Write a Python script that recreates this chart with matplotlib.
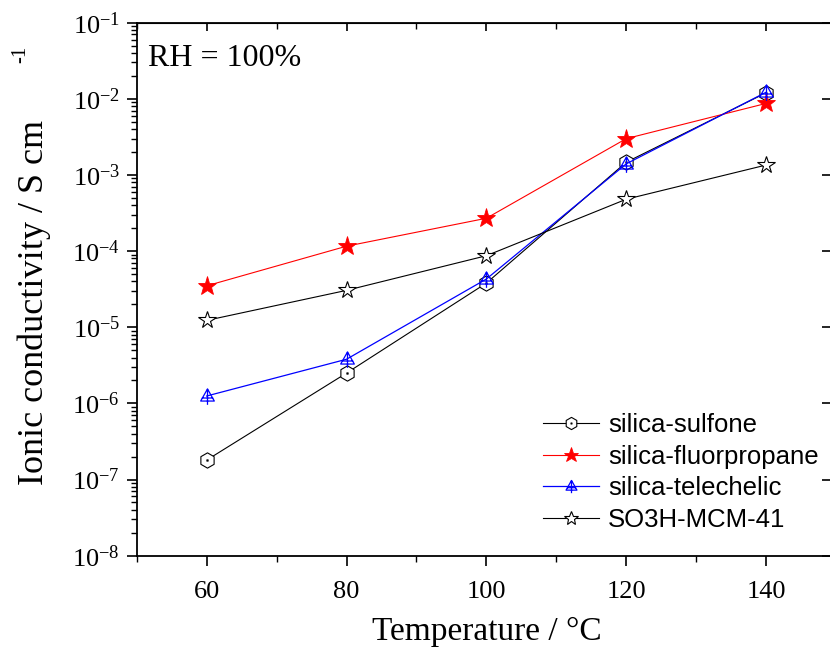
import numpy as np
import matplotlib
matplotlib.use('Agg')
import matplotlib.pyplot as plt
from matplotlib.path import Path
from matplotlib.ticker import LogLocator, NullLocator, FixedLocator, MultipleLocator

plt.rcParams['font.family'] = 'Liberation Serif'
plt.rcParams['mathtext.fontset'] = 'custom'
plt.rcParams['mathtext.rm'] = 'Liberation Serif'
plt.rcParams['mathtext.it'] = 'Liberation Serif:italic'

# data
temp = [60, 80, 100, 120, 140]
sulfone = [1.8e-7, 2.5e-6, 3.8e-5, 1.47e-3, 1.2e-2]
fluorpropane = [3.5e-5, 1.16e-4, 2.7e-4, 3.0e-3, 8.7e-3]
telechelic = [1.25e-6, 3.8e-6, 4.3e-5, 1.40e-3, 1.22e-2]
mcm41 = [1.23e-5, 3.05e-5, 8.7e-5, 4.8e-4, 1.35e-3]
labels = ['silica-sulfone', 'silica-fluorpropane', 'silica-telechelic', 'SO3H-MCM-41']

# hexagon with a dot in the middle
a = np.deg2rad(np.arange(90, 450, 60))
hx = list(zip(np.cos(a), np.sin(a)))
hex_verts = hx + [hx[0]] + [(-0.08, -0.08), (0.08, -0.08), (0.08, 0.08), (-0.08, 0.08), (-0.08, -0.08)]
hex_codes = [Path.MOVETO] + [Path.LINETO] * 5 + [Path.CLOSEPOLY] + [Path.MOVETO] + [Path.LINETO] * 3 + [Path.CLOSEPOLY]
hex_mark = Path(hex_verts, hex_codes)

# triangle with a cross
tri_verts = [(0, 1), (-0.9, -0.6), (0.9, -0.6), (0, 1),
             (0, 1), (0, -1.1),
             (-0.75, -0.2), (0.75, -0.2)]
tri_codes = [Path.MOVETO, Path.LINETO, Path.LINETO, Path.CLOSEPOLY,
             Path.MOVETO, Path.LINETO,
             Path.MOVETO, Path.LINETO]
tri_mark = Path(tri_verts, tri_codes)

fig = plt.figure(figsize=(8.3, 6.57), dpi=100)
ax = fig.add_axes([0.1647, 0.1542, 1.0073 - 0.1647, 0.9655 - 0.1542])

ax.plot(temp, sulfone, color='black', lw=0.8, marker=hex_mark, ms=11,
        mfc='white', mec='black', mew=0.8, label=labels[0])
ax.plot(temp, fluorpropane, color='red', lw=0.8, marker='*', ms=14,
        mfc='red', mec='red', mew=0.6, label=labels[1])
ax.plot(temp, telechelic, color='blue', lw=0.9, marker=tri_mark, ms=12,
        mfc='none', mec='blue', mew=0.9, label=labels[2])
ax.plot(temp, mcm41, color='black', lw=0.8, marker='*', ms=13,
        mfc='white', mec='black', mew=0.8, label=labels[3])

ax.set_yscale('log')
ax.set_ylim(1e-8, 1e-1)
ax.set_xlim(50, 150)
ax.xaxis.set_major_locator(FixedLocator([60, 80, 100, 120, 140]))
ax.xaxis.set_minor_locator(MultipleLocator(10))
ax.yaxis.set_minor_locator(LogLocator(base=10, subs=np.arange(2, 10), numticks=20))
ax.set_yticks([10.0 ** k for k in range(-8, 0)])
ax.set_yticklabels(['$\\mathregular{10^{%d}}$' % k for k in range(-8, 0)])

for s in ax.spines.values():
    s.set_linewidth(1.3)
ax.tick_params(which='major', direction='out', length=7, width=1.2, labelsize=19,
               top=False, right=False, pad=5)
ax.tick_params(axis='x', which='major', pad=11)
ax.tick_params(which='minor', direction='out', length=4, width=1.0, top=False, right=False)

top = ax.secondary_xaxis('top')
top.xaxis.set_major_locator(FixedLocator([60, 80, 100, 120, 140]))
top.xaxis.set_minor_locator(MultipleLocator(10))
top.tick_params(which='major', direction='in', length=6, width=1.2, labeltop=False)
top.tick_params(which='minor', direction='in', length=4, width=1.0)

right = ax.secondary_yaxis('right')
right.yaxis.set_major_locator(FixedLocator([10.0 ** k for k in range(-8, 0)]))
right.yaxis.set_minor_locator(NullLocator())
right.tick_params(which='major', direction='in', length=10, width=1.2, labelright=False)

ax.set_xlabel('Temperature / °C', fontsize=24, labelpad=10)

# y label: main text plus a raised "-1" set apart, as in the original
fig.text(43 / 830, 1 - 485 / 657, 'Ionic conductivity / S cm', fontsize=26,
         rotation=90, rotation_mode='anchor', ha='left', va='baseline')
fig.text(25 / 830, 1 - 63 / 657, '-1', fontsize=15,
         rotation=90, rotation_mode='anchor', ha='left', va='baseline')

ax.text(0.016, 0.96, 'RH = 100%', transform=ax.transAxes, fontsize=23, va='top', ha='left')

ax.legend(loc='lower left', bbox_to_anchor=(0.6386, 0.1705), bbox_transform=fig.transFigure,
          frameon=False, prop={'family': 'Liberation Sans', 'size': 18.5},
          handlelength=2.18, handletextpad=0.35, labelspacing=0.3, borderpad=0,
          markerscale=0.8)

fig.savefig('out.png', dpi=100)
